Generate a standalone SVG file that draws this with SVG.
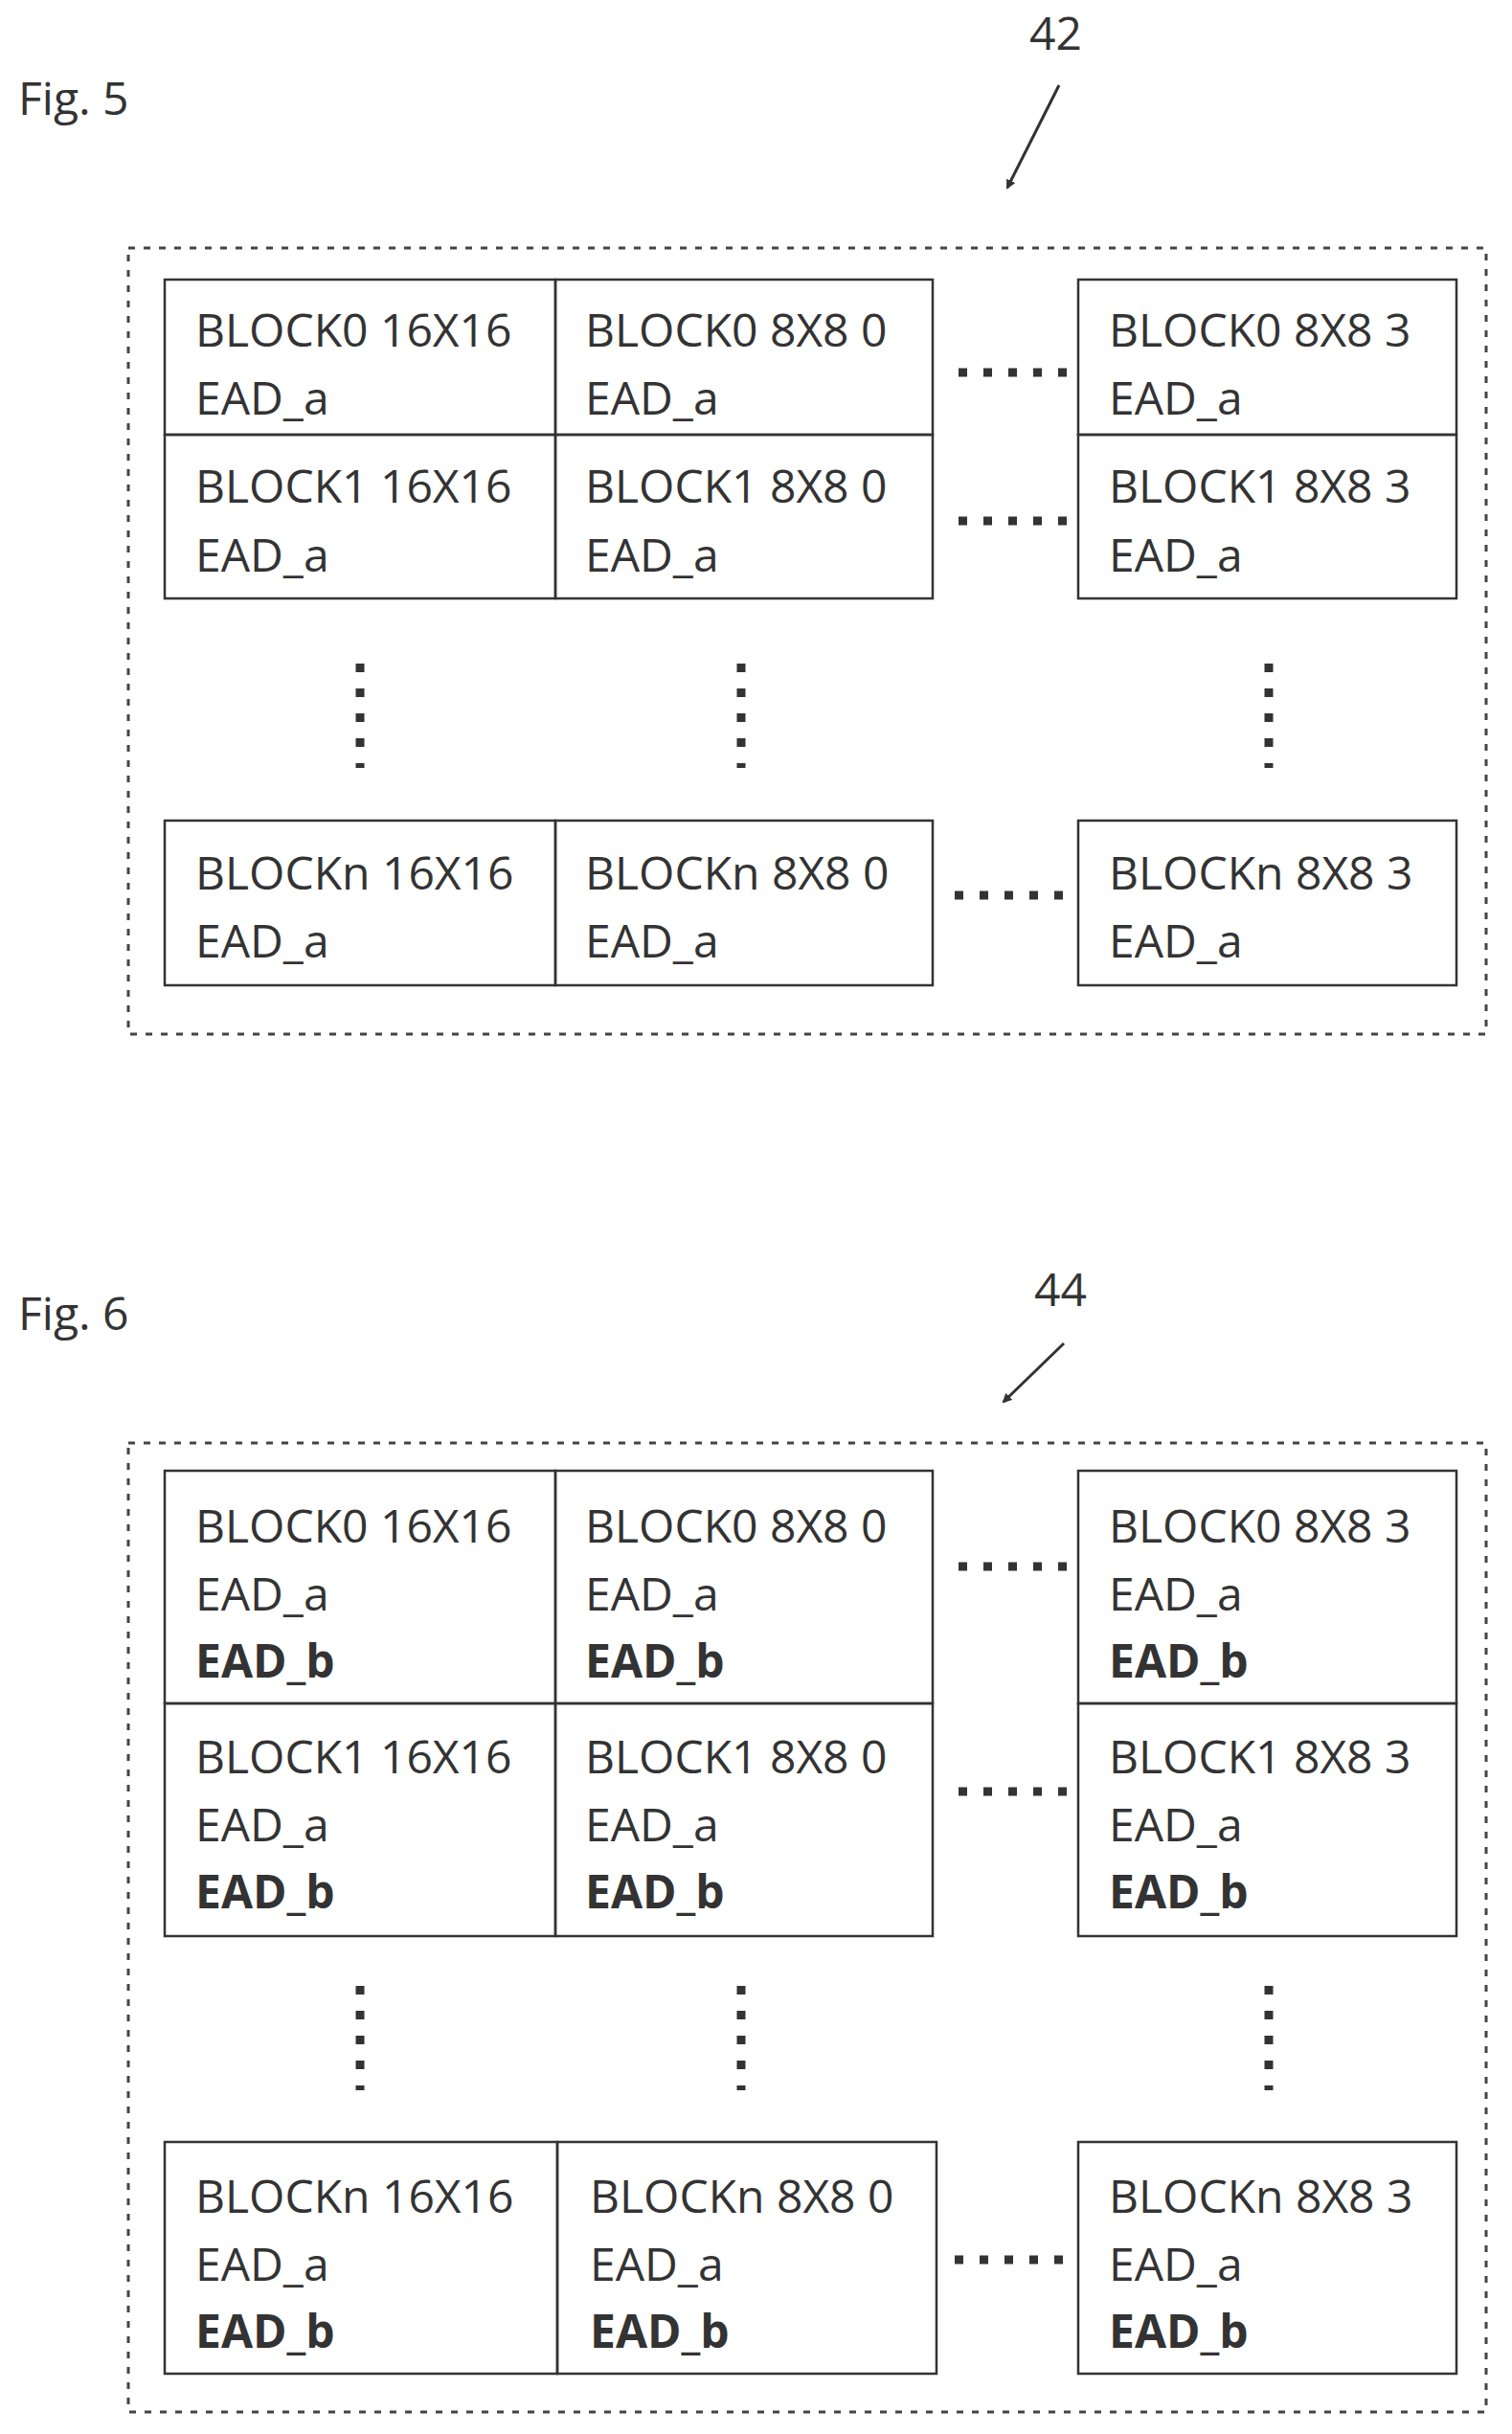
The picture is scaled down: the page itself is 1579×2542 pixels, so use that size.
<svg xmlns="http://www.w3.org/2000/svg" width="1579" height="2542" viewBox="0 0 1579 2542">
<style>
text{font-family:"Open Sans","Liberation Sans",sans-serif;font-size:48px;fill:#333}
.b{font-weight:bold}
.cell{fill:none;stroke:#333;stroke-width:2.5}
.outer{fill:none;stroke:#444;stroke-width:3;stroke-dasharray:7 9}
.hd{stroke:#333;stroke-width:9;stroke-dasharray:9 17;fill:none}
.arrow{stroke:#333;stroke-width:3;fill:none}
</style>
<defs><marker id="ah" markerWidth="10" markerHeight="10" refX="8" refY="5" orient="auto" markerUnits="userSpaceOnUse"><path d="M0,0 L10,5 L0,10 z" fill="#333"/></marker></defs>
<text x="19" y="120">Fig. 5</text>
<text x="1075" y="52">42</text>
<text x="19" y="1389">Fig. 6</text>
<text x="1080" y="1364">44</text>
<g id="connectors">
<line class="arrow" x1="1106" y1="89" x2="1052" y2="196" marker-end="url(#ah)"/>
<line class="arrow" x1="1111" y1="1403" x2="1048" y2="1464" marker-end="url(#ah)"/>
<path class="hd" d="M1001 389H1114M1001 544H1114M997 935H1110M376 693V802M774 693V802M1325 693V802"/>
<path class="hd" d="M1001 1636H1114M1001 1871H1114M997 2360H1110M376 2074V2183M774 2074V2183M1325 2074V2183"/>
</g>
<g id="fig5">
<rect class="outer" x="134" y="259" width="1418" height="821"/>
<g id="f5r0"><rect class="cell" x="172" y="292" width="408" height="162"/><rect class="cell" x="580" y="292" width="394" height="162"/><rect class="cell" x="1126" y="292" width="395" height="162"/>
<text x="204" y="362">BLOCK0 16X16</text><text x="204" y="433">EAD_a</text>
<text x="611" y="362">BLOCK0 8X8 0</text><text x="611" y="433">EAD_a</text>
<text x="1158" y="362">BLOCK0 8X8 3</text><text x="1158" y="433">EAD_a</text></g>
<g id="f5r1"><rect class="cell" x="172" y="454" width="408" height="171"/><rect class="cell" x="580" y="454" width="394" height="171"/><rect class="cell" x="1126" y="454" width="395" height="171"/>
<text x="204" y="525">BLOCK1 16X16</text><text x="204" y="597">EAD_a</text>
<text x="611" y="525">BLOCK1 8X8 0</text><text x="611" y="597">EAD_a</text>
<text x="1158" y="525">BLOCK1 8X8 3</text><text x="1158" y="597">EAD_a</text></g>
<g id="f5rn"><rect class="cell" x="172" y="857" width="408" height="172"/><rect class="cell" x="580" y="857" width="394" height="172"/><rect class="cell" x="1126" y="857" width="395" height="172"/>
<text x="204" y="929">BLOCKn 16X16</text><text x="204" y="1000">EAD_a</text>
<text x="611" y="929">BLOCKn 8X8 0</text><text x="611" y="1000">EAD_a</text>
<text x="1158" y="929">BLOCKn 8X8 3</text><text x="1158" y="1000">EAD_a</text></g>
</g>
<g id="fig6">
<rect class="outer" x="134" y="1507" width="1418" height="1012"/>
<g id="f6r0"><rect class="cell" x="172" y="1536" width="408" height="243"/><rect class="cell" x="580" y="1536" width="394" height="243"/><rect class="cell" x="1126" y="1536" width="395" height="243"/>
<text x="204" y="1611">BLOCK0 16X16</text><text x="204" y="1682">EAD_a</text><text class="b" x="204" y="1752">EAD_b</text>
<text x="611" y="1611">BLOCK0 8X8 0</text><text x="611" y="1682">EAD_a</text><text class="b" x="611" y="1752">EAD_b</text>
<text x="1158" y="1611">BLOCK0 8X8 3</text><text x="1158" y="1682">EAD_a</text><text class="b" x="1158" y="1752">EAD_b</text></g>
<g id="f6r1"><rect class="cell" x="172" y="1779" width="408" height="243"/><rect class="cell" x="580" y="1779" width="394" height="243"/><rect class="cell" x="1126" y="1779" width="395" height="243"/>
<text x="204" y="1852">BLOCK1 16X16</text><text x="204" y="1923">EAD_a</text><text class="b" x="204" y="1993">EAD_b</text>
<text x="611" y="1852">BLOCK1 8X8 0</text><text x="611" y="1923">EAD_a</text><text class="b" x="611" y="1993">EAD_b</text>
<text x="1158" y="1852">BLOCK1 8X8 3</text><text x="1158" y="1923">EAD_a</text><text class="b" x="1158" y="1993">EAD_b</text></g>
<g id="f6rn"><rect class="cell" x="172" y="2237" width="410" height="242"/><rect class="cell" x="582" y="2237" width="396" height="242"/><rect class="cell" x="1126" y="2237" width="395" height="242"/>
<text x="204" y="2311">BLOCKn 16X16</text><text x="204" y="2382">EAD_a</text><text class="b" x="204" y="2452">EAD_b</text>
<text x="616" y="2311">BLOCKn 8X8 0</text><text x="616" y="2382">EAD_a</text><text class="b" x="616" y="2452">EAD_b</text>
<text x="1158" y="2311">BLOCKn 8X8 3</text><text x="1158" y="2382">EAD_a</text><text class="b" x="1158" y="2452">EAD_b</text></g>
</g>
</svg>
